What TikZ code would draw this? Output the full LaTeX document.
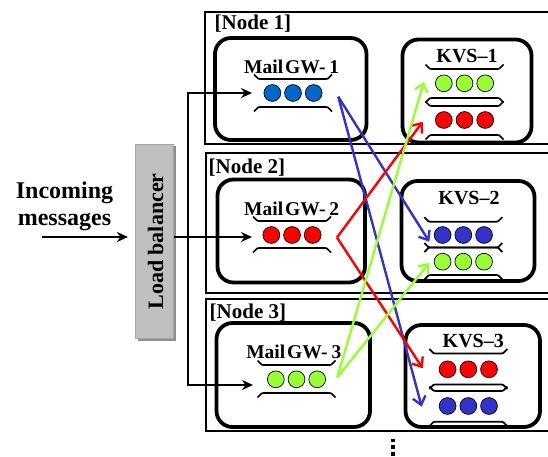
\documentclass[tikz,border=0pt]{standalone}
\usepackage{fontspec}
\setmainfont{Liberation Serif}
\usetikzlibrary{arrows.meta,shadows}
\definecolor{gwblue}{HTML}{0066CC}
\definecolor{kvsblue}{HTML}{3333CC}
\definecolor{qred}{HTML}{FF0000}
\definecolor{qgreen}{HTML}{99FF33}
\definecolor{lbgray}{HTML}{C0C0C0}
\newcommand{\threeballs}[4]{%
  \node[ball,fill=#4] (#1a) at ({#2-20.7},#3) {};
  \node[ball,fill=#4] (#1b) at (#2,#3) {};
  \node[ball,fill=#4] (#1c) at ({#2+20.7},#3) {};}
\begin{document}
\begin{tikzpicture}[x=1pt,y=-1pt,
  nodebox/.style={draw, line width=1.8pt, inner sep=0pt, anchor=north west},
  srvbox/.style={draw, line width=3.8pt, rounded corners=16pt, fill=white, inner sep=0pt},
  ball/.style={circle, draw, line width=0.7pt, minimum size=16.8pt, inner sep=0pt},
  pipeline/.style={line width=1.7pt, line join=round},
  lbl/.style={font=\bfseries\fontsize{19.5}{21}\selectfont, anchor=base, inner sep=0pt},
  klbl/.style={font=\bfseries\fontsize{20}{22}\selectfont, anchor=base, inner sep=0pt},
  nlbl/.style={font=\bfseries\fontsize{21}{23}\selectfont, anchor=base west, inner sep=0pt},
  feed/.style={line width=2.9pt, -{Stealth[length=11pt,width=10pt]}},
  route/.style={line width=2.4pt, -{Straight Barb[length=8pt,width=13pt]}},
  pipe top/.pic={\draw[pipeline] (-39,-4.5) -- (-35,-0.5) -- (-33,0) -- (33,0) -- (35,-0.5) -- (39,-4.5);},
  pipe bot/.pic={\draw[pipeline] (-39,4.5) -- (-35,0.5) -- (-33,0) -- (33,0) -- (35,0.5) -- (39,4.5);},
]
\useasboundingbox (0,0) rectangle (548,457);
\clip (0,0) rectangle (548,457);

% node frames
\node[nodebox, minimum width=350pt, minimum height=132pt] (n1) at (204,11) {};
\node[nodebox, minimum width=350pt, minimum height=140pt] (n2) at (205,152) {};
\node[nodebox, minimum width=350pt, minimum height=132pt] (n3) at (205,298) {};
\node[nlbl] (n1l) at (214.5,30) {[Node 1]};
\node[nlbl] (n2l) at (208.5,174) {[Node 2]};
\node[nlbl] (n3l) at (209.5,318.5) {[Node 3]};

% server boxes
\node[srvbox, minimum width=151.5pt, minimum height=102pt] (gw1) at (290.75,89) {};
\node[srvbox, minimum width=129pt, minimum height=103pt] (kvs1) at (467,91) {};
\node[srvbox, minimum width=147.5pt, minimum height=103pt] (gw2) at (291.25,231) {};
\node[srvbox, minimum width=133pt, minimum height=100pt] (kvs2) at (468,231) {};
\node[srvbox, minimum width=153.5pt, minimum height=104pt] (gw3) at (293.25,375) {};
\node[srvbox, minimum width=134.5pt, minimum height=102pt] (kvs3) at (472.75,376) {};

% titles
\node[lbl] (gw1t) at (291.7,74) {Mail\hspace{0.1em}GW-\hspace{0.2em}1};
\node[lbl] (gw2t) at (291.7,215) {Mail\hspace{0.1em}GW-\hspace{0.2em}2};
\node[lbl] (gw3t) at (293.8,358) {Mail\hspace{0.1em}GW-\hspace{0.2em}3};
\node[klbl] (kvs1t) at (467,63) {KVS\textendash 1};
\node[klbl] (kvs2t) at (469,204) {KVS\textendash 2};
\node[klbl] (kvs3t) at (473.3,347.3) {KVS\textendash 3};

% queues in gateways
\pic at (293,79) {pipe top}; \pic at (293,107) {pipe bot};
\threeballs{q1}{293}{93}{gwblue}
\pic at (292,221) {pipe top}; \pic at (292,248) {pipe bot};
\threeballs{q2}{292}{235}{qred}
\pic at (296.5,365) {pipe top}; \pic at (296.5,393) {pipe bot};
\threeballs{q3}{296.5}{379.3}{qgreen}

% queues in KVS
\pic at (464.5,69) {pipe top}; \pic at (464.5,98) {pipe bot};
\threeballs{k1g}{464.5}{83.3}{qgreen}
\pic at (464.5,106) {pipe top}; \pic at (464.5,135) {pipe bot};
\threeballs{k1r}{464.5}{120}{qred}

\pic at (463.3,221.7) {pipe top}; \pic at (463.3,247.5) {pipe bot};
\threeballs{k2b}{463.3}{235}{kvsblue}
\pic at (463.3,247.5) {pipe top}; \pic at (463.3,275) {pipe bot};
\threeballs{k2g}{463.3}{261.7}{qgreen}

\pic at (468.3,353.5) {pipe top}; \pic at (468.3,384.5) {pipe bot};
\threeballs{k3r}{468.3}{369.3}{qred}
\pic at (468.3,391) {pipe top}; \pic at (468.3,421.7) {pipe bot};
\threeballs{k3b}{468.3}{406}{kvsblue}

% load balancer
\node[draw=gray!70, line width=0.6pt, fill=lbgray, minimum width=38pt, minimum height=194pt, inner sep=0pt,
      drop shadow={shadow xshift=2.5pt, shadow yshift=-2.5pt, fill=gray!90!black, opacity=0.8}] (lb) at (154.2,241) {};
\node[rotate=90, anchor=base, inner sep=0pt, font=\bfseries\fontsize{22}{24}\selectfont] (lbt) at (163,241.5) {Load balancer};

% incoming
\node[align=center, anchor=base, inner sep=0pt, font=\bfseries\fontsize{24}{27}\selectfont] (inc) at (64.5,225) {Incoming\\messages};
\coordinate (src) at (42,237);
\draw[feed, shorten >=7pt] (src) -- (lb.west |- src);

% distribution bus
\coordinate (bus1) at (188,93);
\coordinate (bus3) at (188,385);
\coordinate (in1) at (252,93);
\coordinate (in2) at (252,237);
\coordinate (in3) at (253,385);
\draw[feed] (bus3) -- (bus1) -- (in1);
\draw[feed] (bus1) -- (bus3) -- (in3);
\draw[feed] (lb.east |- in2) -- (in2);

% routes
\coordinate (b0) at (338.3,96.7);
\coordinate (r0) at (337,237.5);
\coordinate (g0) at (337.3,377.3);
\coordinate (bk2) at (429.3,241.7);
\coordinate (bk3) at (421.7,406.7);
\coordinate (rk1) at (422.7,121.7);
\coordinate (rk3) at (422.7,368.3);
\coordinate (gk1) at (424,81.7);
\coordinate (gk2) at (429.3,262.7);
\draw[route, kvsblue] (b0) -- (bk2);
\draw[route, kvsblue] (b0) -- (bk3);
\draw[route, qred] (r0) -- (rk1);
\draw[route, qred] (r0) -- (rk3);
\draw[route, qgreen] (g0) -- (gk1);
\draw[route, qgreen] (g0) -- (gk2);

% more nodes
\fill (391.2,438.5) rectangle +(3.4,3.6);
\fill (391.2,445.2) rectangle +(3.4,3.6);
\fill (391.2,451.9) rectangle +(3.4,3.6);
\end{tikzpicture}
\end{document}
